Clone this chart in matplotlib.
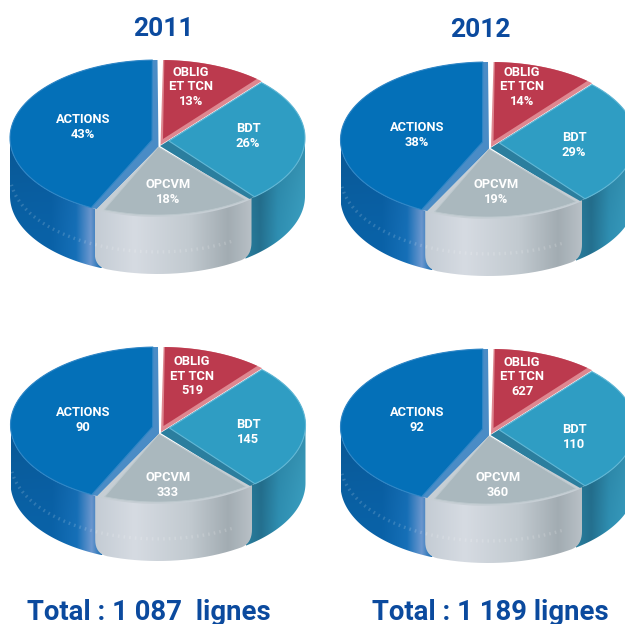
import numpy as np
import matplotlib
matplotlib.use('Agg')
import matplotlib.pyplot as plt
from matplotlib.colors import to_rgb
from matplotlib.path import Path
from matplotlib.patches import PathPatch, Polygon

# the same pie drawing is used four times in the source, only the labels change
slice_names = ['OBLIG\nET TCN', 'BDT', 'OPCVM', 'ACTIONS']
drawn_shares = [13, 26, 18, 43]

labels_2011_pct = ['13%', '26%', '18%', '43%']
labels_2012_pct = ['14%', '29%', '19%', '38%']
labels_2011_num = ['519', '145', '333', '90']
labels_2012_num = ['627', '110', '360', '92']

titles = ['2011', '2012']
totals = ['Total : 1 087  lignes', 'Total : 1 189 lignes']

BLUE_TEXT = '#0B4A9E'
RX, RY, DEPTH = 147.5, 78, 58

# angles in degrees, clockwise from the top
angles = np.cumsum([0] + drawn_shares) * 3.6


def rim(cx, cy, t0, t1, n=60, rx=RX, ry=RY):
    t = np.radians(np.linspace(t0, t1, n))
    return np.column_stack([cx + rx * np.sin(t), cy - ry * np.cos(t)])


def corner(p0, p1, p2, n=10):
    # quadratic curve to round a corner of a side piece
    s = np.linspace(0, 1, n)[:, None]
    return (1 - s) ** 2 * p0 + 2 * s * (1 - s) * p1 + s ** 2 * p2


def gradient_fill(ax, pts, stops, dark=0.0):
    # horizontal colour stops, a bit darker towards the top when dark > 0
    patch = PathPatch(Path(np.vstack([pts, pts[0]])), fc='none', ec='none')
    ax.add_patch(patch)
    xs = np.linspace(0, 1, 200)
    pos = [s[0] for s in stops]
    rgb = np.array([to_rgb(s[1]) for s in stops])
    row = np.column_stack([np.interp(xs, pos, rgb[:, i]) for i in range(3)])
    fade = 1 - dark * (1 - np.linspace(0, 1, 60)) ** 2
    img = row[None, :, :] * fade[:, None, None]
    im = ax.imshow(img, extent=[pts[:, 0].min(), pts[:, 0].max(), pts[:, 1].max(), pts[:, 1].min()],
                   aspect='auto', zorder=2, interpolation='bilinear')
    im.set_clip_path(patch)


def side(ax, cx, cy, t0, t1, stops, pad=0, round_ends=True, dark=0.12):
    top = rim(cx, cy, t0, t1)
    low = rim(cx, cy + DEPTH, t0 + pad, t1 - pad)[::-1]
    if round_ends:
        a1 = rim(cx, cy + DEPTH - 14, t1, t1, 1)[0]
        b1 = rim(cx, cy + DEPTH, t1, t1, 1)[0]
        a0 = rim(cx, cy + DEPTH - 14, t0, t0, 1)[0]
        b0 = rim(cx, cy + DEPTH, t0, t0, 1)[0]
        pts = np.vstack([top, corner(a1, b1, low[0]), low, corner(low[-1], b0, a0)])
    else:
        pts = np.vstack([top, low])
    gradient_fill(ax, pts, stops, dark)


def wedge(ax, apex, cx, cy, t0, t1, color, z, ec='none', lw=0):
    pts = np.vstack([apex, rim(cx, cy, t0, t1)])
    ax.add_patch(Polygon(pts, closed=True, fc=color, ec=ec, lw=lw, zorder=z, joinstyle='round'))


def draw_pie(ax, cx, cy):
    ax_ = cx + 0.5
    ay = cy + 7
    a = angles

    # sides, back to front
    side(ax, cx, cy, a[3] - 3, 270, [(0, '#0A62A6'), (0.45, '#0A62A8'), (0.72, '#1670B8'),
                                     (0.88, '#6C98D0'), (1, '#0E68AE')], round_ends=False)
    side(ax, cx, cy, 90, a[2] + 3, [(0, '#2A7F9E'), (0.25, '#24708F'), (0.55, '#2F8FB2'), (1, '#3BA0C2')],
         round_ends=False)
    side(ax, cx, cy, a[2], a[3], [(0, '#C4CCD4'), (0.25, '#D6DBE2'), (0.6, '#C2CAD0'),
                                  (0.85, '#A2ACB2'), (1, '#B8C0C6')], pad=5, dark=0.0)

    # pale band of small ticks on the sides
    t_band = rim(cx, cy + DEPTH * 0.62, 150, 262, 200)
    ax.plot(t_band[:, 0], t_band[:, 1], color='white', lw=2.4, ls=(0, (0.5, 1.2)), alpha=0.16, zorder=3)

    # blue face with its lighter bevels
    wedge(ax, [ax_ + 0.5, ay + 2], cx, cy, a[3] - 1, 360, '#4A8CC6', 4)
    wedge(ax, [ax_ - 6, ay - 5], cx, cy, a[3] + 1.5, 358, '#0470B8', 5, ec='#2F86C6', lw=0.8)

    # red, stops a little short of its share so the bdt corner shows
    wedge(ax, [ax_ + 2.5, ay], cx + 3, cy, 1, a[1] - 3.5, '#DE8790', 4)
    wedge(ax, [ax_ + 5, ay - 6], cx + 3, cy, 1.5, a[1] - 6, '#BC3A4E', 5)

    # bdt, dark bevel on the lower edge
    wedge(ax, [ax_ + 2, ay + 1], cx, cy, a[1] - 2, a[2] + 2, '#2B7E9E', 3.5)
    wedge(ax, [ax_ + 11, ay - 4], cx, cy, a[1] - 2, a[2] - 1.5, '#2F9DC3', 3.6, ec='#62B8D6', lw=0.8)

    # grey, with the pale rounded edge showing under the face
    wedge(ax, [ax_ + 0.5, ay + 2], cx, cy + 1, a[2] + 0.5, a[3] - 0.5, '#C6CED4', 5)
    wedge(ax, [ax_ + 0.5, ay + 2], cx, cy - 1, a[2] + 3, a[3] - 4, '#AAB8BE', 6, ec='#BCC8CD', lw=0.6)


fig = plt.figure(figsize=(6.25, 6.24), dpi=100)
ax = fig.add_axes([0, 0, 1, 1])

pies = [(157.5, 138), (488, 140), (158, 425), (488, 427)]
pie_labels = [labels_2011_pct, labels_2012_pct, labels_2011_num, labels_2012_num]
# label anchors for each pie: oblig, bdt, opcvm, actions (centre of the text block)
label_pos = [
    [(191, 87), (248, 136), (168, 192), (83, 127)],
    [(522, 87), (574, 145), (496, 192), (417, 135)],
    [(192, 376), (248, 432), (168, 485), (83, 420)],
    [(522, 377), (574, 437), (498, 485), (417, 420)],
]

for (cx, cy), labs, pos in zip(pies, pie_labels, label_pos):
    draw_pie(ax, cx, cy)
    for name, lab, (x, y) in zip(slice_names, labs, pos):
        ax.text(x, y, name + '\n' + lab, color='white', fontsize=9.3, fontweight='bold',
                family='Roboto', ha='center', va='center', linespacing=1.14, zorder=8)

ax.text(163, 29, titles[0], color=BLUE_TEXT, fontsize=19, fontweight='bold', family='Roboto',
        ha='center', va='center')
ax.text(480, 30, titles[1], color=BLUE_TEXT, fontsize=19, fontweight='bold', family='Roboto',
        ha='center', va='center')
ax.text(148.5, 612, totals[0], color=BLUE_TEXT, fontsize=19.8, fontweight='bold', family='Roboto',
        ha='center', va='center')
ax.text(490, 612, totals[1], color=BLUE_TEXT, fontsize=19.8, fontweight='bold', family='Roboto',
        ha='center', va='center')

ax.set_xlim(0, 625)
ax.set_ylim(624, 0)
ax.axis('off')
fig.savefig('out.png', dpi=100)
